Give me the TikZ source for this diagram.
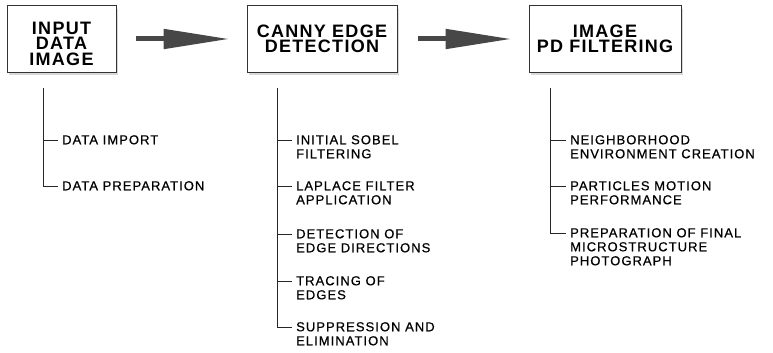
\documentclass[tikz,border=0pt]{standalone}
\usepackage{fontspec}
\newfontfamily\diafont[LetterSpace=7]{Liberation Sans}
\newfontfamily\taskfont[LetterSpace=8,FakeBold=0.6]{Liberation Sans}
\usetikzlibrary{arrows.meta,shadows}

\tikzset{
  stage/.style={draw=black!80, line width=1pt, fill=white, inner sep=0pt,
    minimum height=66pt, align=center,
    font=\diafont\bfseries\fontsize{18}{15}\selectfont,
    drop shadow={shadow xshift=2pt, shadow yshift=-3pt, opacity=.3}},
  flow/.style={line width=5pt, draw=black!72,
    -{Triangle[length=66pt,width=19pt]}},
  task/.style={anchor=north west, inner xsep=4pt, inner ysep=0pt,
    align=left, font=\taskfont\fontsize{13}{14}\selectfont},
  branch/.style={draw=black!85, line width=0.8pt}
}

\begin{document}
\begin{tikzpicture}[x=1pt, y=-1pt]
    \useasboundingbox (0,0) rectangle (773,353);
    \node[stage, minimum width=109pt, text height=52pt, text depth=0pt]
        (input) at (61.5,39) {INPUT\\DATA\\IMAGE};
    \node[stage, minimum width=150pt] (canny) at (322,39) {CANNY EDGE\\DETECTION};
    \node[stage, minimum width=152pt] (pdf) at (605,39) {IMAGE\\PD FILTERING};
    \draw[flow] ([xshift=19pt]input.east) -- ([xshift=-17pt]canny.west);
    \draw[flow] ([xshift=20pt]canny.east) -- ([xshift=-17pt]pdf.west);
    \coordinate (inroot) at (43,88);
    \coordinate (canroot) at (277,88);
    \coordinate (pdroot) at (550,88);
    \foreach \n/\y/\t in {imp/140/DATA IMPORT, prep/186/DATA PREPARATION}
        \node[task] (\n) at (58,\y-5) {\t};
    \foreach \n/\y/\t in {sobel/140/{INITIAL SOBEL\\FILTERING},
        laplace/186/{LAPLACE FILTER\\APPLICATION},
        direct/234/{DETECTION OF\\EDGE DIRECTIONS},
        trace/281/{TRACING OF\\EDGES},
        suppr/327/{SUPPRESSION AND\\ELIMINATION}}
        \node[task] (\n) at (292,\y-5) {\t};
    \foreach \n/\y/\t in {neigh/140/{NEIGHBORHOOD\\ENVIRONMENT CREATION},
        motion/186/{PARTICLES MOTION\\PERFORMANCE},
        photo/233/{PREPARATION OF FINAL\\MICROSTRUCTURE\\PHOTOGRAPH}}
        \node[task] (\n) at (566,\y-5) {\t};
    \foreach \n in {imp,prep}
        \draw[branch] (inroot) |- ([yshift=-5pt]\n.north west);
    \foreach \n in {sobel,laplace,direct,trace,suppr}
        \draw[branch] (canroot) |- ([yshift=-5pt]\n.north west);
    \foreach \n in {neigh,motion,photo}
        \draw[branch] (pdroot) |- ([yshift=-5pt]\n.north west);
\end{tikzpicture}
\end{document}
